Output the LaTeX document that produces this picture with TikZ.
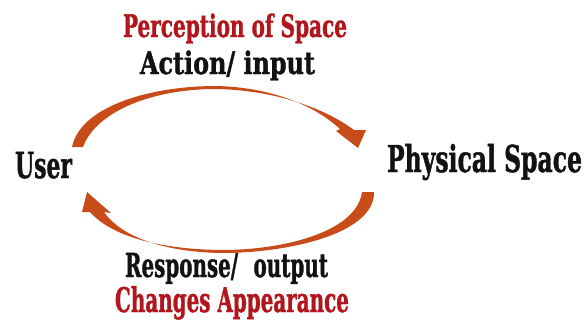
\documentclass[tikz,border=0pt]{standalone}
\usepackage{fontspec}
\usepackage{graphicx}
\newfontfamily\slab{DejaVu Serif Condensed Bold}[FakeBold=1.3]
\definecolor{txtred}{RGB}{178,22,28}
\definecolor{txtblk}{RGB}{18,18,18}
\definecolor{arrowc}{RGB}{200,76,26}
\newcommand{\fitw}[2]{\resizebox{#1}{\height}{#2}}
\tikzset{
  lbl/.style={anchor=base, inner sep=0pt, outer sep=0pt, text=txtblk},
  redlbl/.style={lbl, text=txtred},
  arrowbody/.style={fill=arrowc, draw=none}
}
\begin{document}
\begin{tikzpicture}[x=1pt,y=-1pt]
\useasboundingbox (0,0) rectangle (587,325);
% texts
\node[redlbl] (perc) at (235,37) {\fitw{224pt}{\slab\fontsize{31}{31}\selectfont Perception of Space}};
\node[lbl] (action) at (227.5,74) {\fitw{175pt}{\slab\fontsize{31}{31}\selectfont Action/\ input}};
\node[lbl] (user) at (43.5,178) {\fitw{57pt}{\slab\fontsize{36}{36}\selectfont User}};
\node[lbl] (phys) at (484.5,172) {\fitw{195pt}{\slab\fontsize{37}{37}\selectfont Physical Space}};
\node[lbl] (resp) at (226.5,277) {\fitw{203pt}{\slab\fontsize{33}{33}\selectfont Response/\hspace{0.7em}output}};
\node[redlbl] (changes) at (232,312) {\fitw{234pt}{\slab\fontsize{34}{34}\selectfont Changes Appearance}};
% anchor coordinates for the curved arrows
\coordinate (ta) at (72,147);
\coordinate (tb) at (83,147);
\coordinate (th1) at (336,131);
\coordinate (th2) at (366,130);
\coordinate (tt) at (358,148);
\coordinate (ba) at (362,192);
\coordinate (bb) at (374,192);
\coordinate (bh1) at (82,212);
\coordinate (bh2) at (111,213);
\coordinate (bt) at (87,192);
% top arrow: User -> Physical Space
\fill[arrowbody] (ta) .. controls (80,108) and (145,87) .. (212,86)
  .. controls (265,86) and (312,103) .. (340,129)
  -- (th1) -- (tt) -- (th2) -- (354,130)
  .. controls (322,106) and (268,89) .. (212,89)
  .. controls (150,90) and (96,112) .. (tb) -- cycle;
% bottom arrow: Physical Space -> User
\fill[arrowbody] (bb) .. controls (375,232) and (295,252) .. (226,253)
  .. controls (168,253) and (122,238) .. (104,212)
  -- (bh2) -- (bt) -- (bh1) -- (90,212)
  .. controls (113,238) and (165,250) .. (226,250)
  .. controls (290,249) and (357,230) .. (ba) -- cycle;
\end{tikzpicture}
\end{document}
